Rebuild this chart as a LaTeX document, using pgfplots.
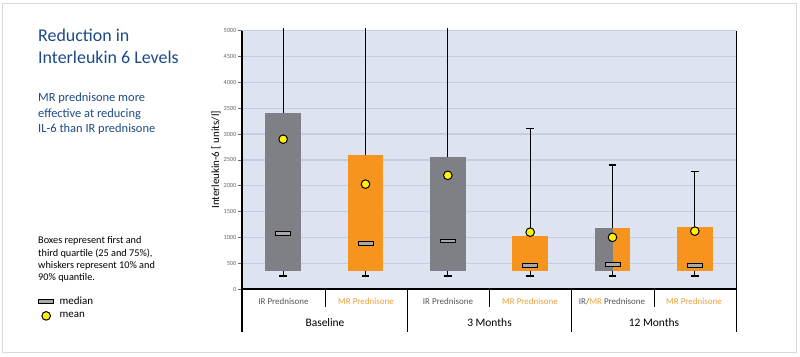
\documentclass[border=0pt]{standalone}
\usepackage{pgfplots}
\pgfplotsset{compat=1.18}
\usepackage{pgfplotstable}
\usepackage{fontspec}
\setmainfont{Carlito}
\definecolor{boxgray}{HTML}{7F8085}
\definecolor{boxorange}{HTML}{F7941E}
\definecolor{plotbg}{HTML}{DEE3F1}
\definecolor{gridc}{HTML}{C7CDE0}
\definecolor{meanyellow}{HTML}{FFF200}
\definecolor{titleblue}{HTML}{1C4A87}
\definecolor{irgray}{HTML}{555555}
\definecolor{mrorange}{HTML}{EE9F3A}
\definecolor{tickgray}{HTML}{666666}
\definecolor{medfill}{HTML}{A8A8A8}
\pgfdeclareplotmark{med}{\pgfpathrectangle{\pgfqpoint{-7.5bp}{-1.8bp}}{\pgfqpoint{15bp}{3.6bp}}\pgfusepathqfillstroke}
\pgfplotstableread{
x lw lq med uq uw mean
0 250 340 1080 3400 5060 2900
1 250 340 880 2600 5060 2030
2 250 340 930 2550 5060 2200
3 250 340 460 1030 3100 1100
4 250 340 480 1180 2400 1000
5 250 340 460 1200 2280 1120
}\datatable
\begin{document}
\begin{tikzpicture}
\useasboundingbox (0,0) rectangle (800bp,-357bp);
\draw[gray!30, line width=1bp] (2.5bp,-3.5bp) rectangle (796.5bp,-352.5bp);
\begin{axis}[
  at={(242bp,-289bp)}, anchor=south west,
  scale only axis, width=494bp, height=258.3bp,
  xmin=-0.5, xmax=5.5, ymin=0, ymax=5000,
  clip=false,
  axis line style={draw=none},
  axis background/.style={fill=plotbg},
  ytick={0,500,...,5000}, xtick=\empty, ytick pos=left,
  ymajorgrids, major grid style={gridc, line width=1.3bp},
  tick align=outside, major tick length=4bp, tick style={tickgray, line width=0.6bp},
  yticklabel style={font=\fontsize{6.3}{7}\selectfont, text=tickgray, inner sep=1.5bp},
  /pgf/number format/assume math mode=true,
  /pgf/number format/1000 sep={},
  ylabel={Interleukin-6 [ units/l]},
  ylabel style={font=\fontsize{11}{13}\selectfont, yshift=-2bp},
  legend style={at={(axis description cs:-0.412,-0.022)}, anchor=north west, draw=none, fill=none,
    font=\fontsize{11}{12}\selectfont, row sep=2.5bp, inner sep=0pt},
  legend cell align=left,
]
% boxes
\addplot[fill=boxgray, draw=none, forget plot] coordinates {(-0.215,340) (0.215,340) (0.215,3400) (-0.215,3400)} --cycle;
\addplot[fill=boxorange, draw=none, forget plot] coordinates {(0.785,340) (1.215,340) (1.215,2600) (0.785,2600)} --cycle;
\addplot[fill=boxgray, draw=none, forget plot] coordinates {(1.785,340) (2.215,340) (2.215,2550) (1.785,2550)} --cycle;
\addplot[fill=boxorange, draw=none, forget plot] coordinates {(2.785,340) (3.215,340) (3.215,1030) (2.785,1030)} --cycle;
\addplot[fill=boxgray, draw=none, forget plot] coordinates {(3.785,340) (4,340) (4,1180) (3.785,1180)} --cycle;
\addplot[fill=boxorange, draw=none, forget plot] coordinates {(4,340) (4.215,340) (4.215,1180) (4,1180)} --cycle;
\addplot[fill=boxorange, draw=none, forget plot] coordinates {(4.785,340) (5.215,340) (5.215,1200) (4.785,1200)} --cycle;
% whiskers
\addplot[black, line width=1.2bp, forget plot] coordinates {(0,3400) (0,5060)};
\addplot[black, line width=1.2bp, forget plot] coordinates {(1,2600) (1,5060)};
\addplot[black, line width=1.2bp, forget plot] coordinates {(2,2550) (2,5060)};
\addplot[black, line width=1.2bp, forget plot] coordinates {(3,1030) (3,3100)};
\addplot[black, line width=1.2bp, forget plot] coordinates {(4,1180) (4,2400)};
\addplot[black, line width=1.2bp, forget plot] coordinates {(5,1200) (5,2280)};
\addplot[black, line width=1.2bp, forget plot] coordinates {(2.955,3100) (3.045,3100)};
\addplot[black, line width=1.2bp, forget plot] coordinates {(3.955,2400) (4.045,2400)};
\addplot[black, line width=1.2bp, forget plot] coordinates {(4.955,2280) (5.045,2280)};
\addplot[black, line width=1.2bp, forget plot] coordinates {(0,250) (0,340)};
\addplot[black, line width=1.2bp, forget plot] coordinates {(1,250) (1,340)};
\addplot[black, line width=1.2bp, forget plot] coordinates {(2,250) (2,340)};
\addplot[black, line width=1.2bp, forget plot] coordinates {(3,250) (3,340)};
\addplot[black, line width=1.2bp, forget plot] coordinates {(4,250) (4,340)};
\addplot[black, line width=1.2bp, forget plot] coordinates {(5,250) (5,340)};
\addplot[black, line width=1.2bp, forget plot] coordinates {(-0.045,250) (0.045,250)};
\addplot[black, line width=1.2bp, forget plot] coordinates {(0.955,250) (1.045,250)};
\addplot[black, line width=1.2bp, forget plot] coordinates {(1.955,250) (2.045,250)};
\addplot[black, line width=1.2bp, forget plot] coordinates {(2.955,250) (3.045,250)};
\addplot[black, line width=1.2bp, forget plot] coordinates {(3.955,250) (4.045,250)};
\addplot[black, line width=1.2bp, forget plot] coordinates {(4.955,250) (5.045,250)};
% medians and means
\addplot[only marks, mark=med, mark options={fill=medfill, draw=black, line width=1bp}] table[x=x, y=med] {\datatable};
\addlegendentry{\hspace{4bp}median}
\addplot[only marks, mark=*, mark size=4.3bp, mark options={fill=meanyellow, draw=black, line width=1bp}] table[x=x, y=mean] {\datatable};
\addlegendentry{\hspace{4bp}mean}
\end{axis}
\begin{scope}[x=1bp, y=-1bp]
\draw[black, line width=1.2bp] (242,289) -- (736.5,289);
\draw[black, line width=1.2bp] (242,30.7) -- (242,332);
\draw[black, line width=1.2bp] (736.5,30.7) -- (736.5,332);
\draw[black, line width=1.2bp] (407.3,289) -- (407.3,332);
\draw[black, line width=1.2bp] (571.7,289) -- (571.7,332);
\draw[black, line width=1.2bp] (325.7,289) -- (325.7,307);
\draw[black, line width=1.2bp] (489.7,289) -- (489.7,307);
\draw[black, line width=1.2bp] (654.3,289) -- (654.3,307);
% category labels
\begin{scope}[every node/.style={font=\fontsize{9}{10}\selectfont, inner sep=0, anchor=base}]
\node[text=irgray] at (283.5,304.5) {IR Prednisone};
\node[text=mrorange] at (366,304.5) {MR Prednisone};
\node[text=irgray] at (448,304.5) {IR Prednisone};
\node[text=mrorange] at (530,304.5) {MR Prednisone};
\node at (612,304.5) {\textcolor{irgray}{IR/}\textcolor{mrorange}{MR}\ \textcolor{irgray}{Prednisone}};
\node[text=mrorange] at (694,304.5) {MR Prednisone};
\end{scope}
\begin{scope}[every node/.style={font=\fontsize{11.5}{13}\selectfont, inner sep=0, anchor=base}]
\node at (325,326.5) {Baseline};
\node at (489.5,326.5) {3 Months};
\node at (654,326.5) {12 Months};
\end{scope}
% left texts
\begin{scope}[every node/.style={font=\fontsize{18}{20}\selectfont, inner sep=0, anchor=base west, text=titleblue}]
\node at (38,41) {Reduction in};
\node at (38,63.5) {Interleukin 6 Levels};
\end{scope}
\begin{scope}[every node/.style={font=\fontsize{12.5}{14}\selectfont, inner sep=0, anchor=base west, text=titleblue}]
\node at (38,101.5) {MR prednisone more};
\node at (38,117) {effective at reducing};
\node at (38,132.5) {IL-6 than IR prednisone};
\end{scope}
\begin{scope}[every node/.style={font=\fontsize{10.3}{12}\selectfont, inner sep=0, anchor=base west}]
\node at (38,243.5) {Boxes represent first and};
\node at (38,256) {third quartile (25 and 75\%),};
\node at (38,268) {whiskers represent 10\% and};
\node at (38,280.5) {90\% quantile.};
\end{scope}
\end{scope}
\end{tikzpicture}
\end{document}
